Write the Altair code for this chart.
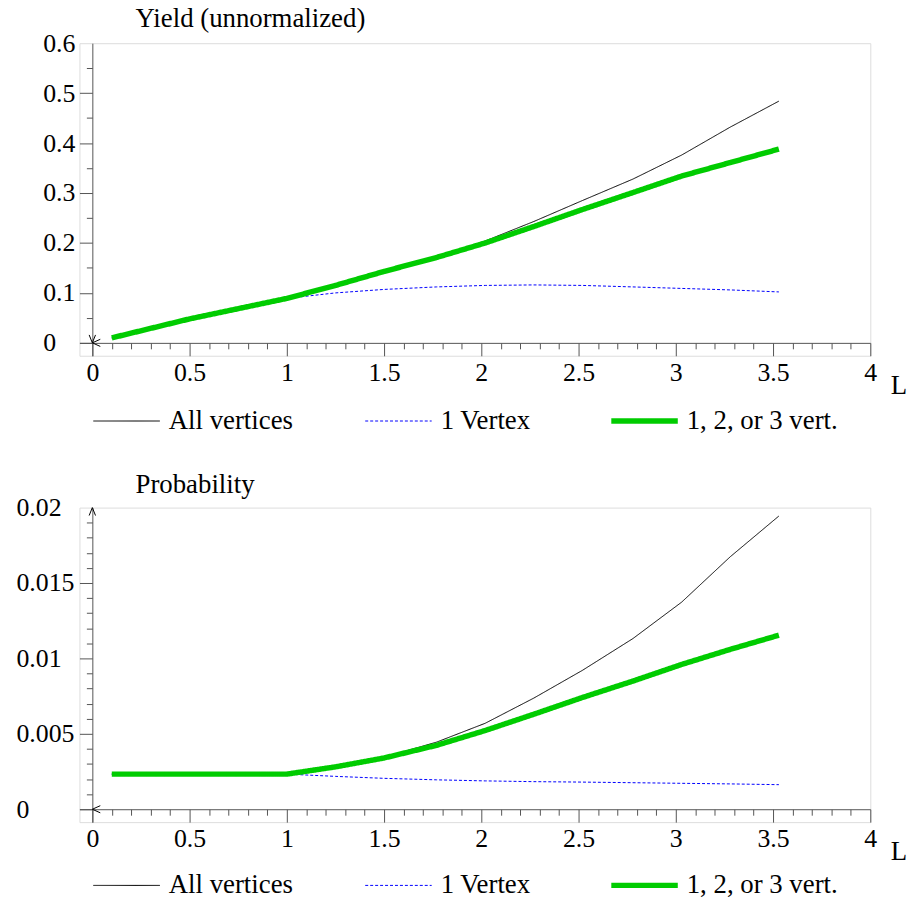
import altair as alt
import pandas as pd

# ---------------- data ----------------
L = [0.1, 0.5, 1.0, 1.25, 1.5, 1.77, 2.02, 2.27, 2.52, 2.78, 3.03, 3.28, 3.53]

series_names = ["All vertices", "1 Vertex", "1, 2, or 3 vert."]
series_colors = ["#000000", "#0000ff", "#00cc00"]
series_dash = [[1, 0], [3, 2], [1, 0]]

yield_all = [0.010, 0.048, 0.089, 0.115, 0.143, 0.172, 0.204, 0.243, 0.285, 0.328, 0.376, 0.432, 0.484]
yield_one = [0.010, 0.048, 0.089, 0.100, 0.107, 0.112, 0.115, 0.116, 0.115, 0.112, 0.109, 0.106, 0.102]
yield_123 = [0.010, 0.048, 0.089, 0.115, 0.143, 0.171, 0.200, 0.233, 0.267, 0.301, 0.334, 0.361, 0.388]

prob_all = [0.00233, 0.00233, 0.00233, 0.00283, 0.00345, 0.00445, 0.00570, 0.00737, 0.00921, 0.01132, 0.01373, 0.01674, 0.01944]
prob_one = [0.00233, 0.00233, 0.00233, 0.00218, 0.00205, 0.00195, 0.00188, 0.00183, 0.00180, 0.00176, 0.00172, 0.00168, 0.00163]
prob_123 = [0.00233, 0.00233, 0.00233, 0.00281, 0.00340, 0.00424, 0.00522, 0.00630, 0.00741, 0.00850, 0.00960, 0.01060, 0.01154]

x_major = [0, 0.5, 1, 1.5, 2, 2.5, 3, 3.5, 4]
x_minor = [0.1, 0.2, 0.3, 0.4, 0.6, 0.7, 0.8, 0.9, 1.1, 1.2, 1.3, 1.4, 1.6, 1.7, 1.8, 1.9,
           2.1, 2.2, 2.3, 2.4, 2.6, 2.7, 2.8, 2.9, 3.1, 3.2, 3.3, 3.4, 3.6, 3.7, 3.8, 3.9]

y1_major = [0, 0.1, 0.2, 0.3, 0.4, 0.5, 0.6]
y1_minor = [0.05, 0.15, 0.25, 0.35, 0.45, 0.55]

y2_major = [0, 0.005, 0.01, 0.015, 0.02]
y2_minor = [0.001, 0.002, 0.003, 0.004, 0.006, 0.007, 0.008, 0.009,
            0.011, 0.012, 0.013, 0.014, 0.016, 0.017, 0.018, 0.019]

# axis arrow heads (Maple style): position on the axes and direction
arrows_top = {"L": [0, 0], "v": [0, 0], "dir": ["left", "down"]}
arrows_bottom = {"L": [0, 0], "v": [0, 0.02], "dir": ["left", "up"]}

# ---------------- styling ----------------
FONT = "Liberation Serif"
FS = 26
FS_T = 27
AX = "#555555"
EXT = 13          # axis extension beyond the origin, px
PX_X = 196.0      # px per unit of L
W = 797
GREEN = series_names[2]

ARROW_SHAPES = {
    "left": "M1,-0.45L0,0L1,0.45",
    "down": "M-0.4,-1L0,0L0.4,-1",
    "up": "M-0.4,1L0,0L0.4,1",
}


def long_df(vals_list):
    rows = []
    for name, vals in zip(series_names, vals_list):
        for l, v in zip(L, vals):
            rows.append({"L": l, "v": v, "series": name})
    return pd.DataFrame(rows)


def panel(df, arrows, ymax, px_per_unit_y, y_major, y_minor, label_pad, title, title_y, legend_y):
    ylo = -EXT / px_per_unit_y
    h = round((ymax - ylo) * px_per_unit_y)
    xscale = alt.Scale(domain=[-EXT / PX_X, 4], nice=False, zero=False)
    yscale = alt.Scale(domain=[ylo, ymax], nice=False, zero=False)

    leg = alt.Legend(
        orient="none", legendX=14, legendY=legend_y, direction="horizontal",
        title=None, symbolType="stroke", symbolSize=67 * 67, symbolOffset=20,
        labelFont=FONT, labelFontSize=FS_T, labelColor="black", labelOffset=29,
        columnPadding=70, labelLimit=400,
        symbolStrokeWidth=alt.ExprRef(expr="datum.value === '%s' ? 5.5 : 1" % GREEN),
    )

    base = alt.Chart(df)
    minor = base.mark_line(strokeOpacity=0).encode(
        x=alt.X("L:Q", scale=xscale,
                axis=alt.Axis(orient="bottom", offset=-EXT, values=x_minor, labels=False,
                              domain=False, grid=False, tickSize=6, tickColor=AX, title=None)),
        y=alt.Y("v:Q", scale=yscale,
                axis=alt.Axis(orient="left", offset=-EXT, values=y_minor, labels=False,
                              domain=False, grid=False, tickSize=6, tickColor=AX, title=None)),
        detail="series:N",
    )
    lines = base.mark_line(clip=False).encode(
        x=alt.X("L:Q", scale=xscale,
                axis=alt.Axis(orient="bottom", offset=-EXT, values=x_major, format="~g",
                              tickSize=EXT, tickColor=AX, domainColor=AX, grid=False,
                              labelFont=FONT, labelFontSize=FS, labelColor="black",
                              labelBaseline="middle", labelPadding=17,
                              labelFlush=False, labelOverlap=False,
                              title="L", titleFont=FONT, titleFontSize=FS_T,
                              titleFontWeight="normal", titleColor="black",
                              titleAlign="left", titleBaseline="alphabetic",
                              titleX=817, titleY=51)),
        y=alt.Y("v:Q", scale=yscale,
                axis=alt.Axis(orient="left", offset=-EXT, values=y_major, format="~g",
                              tickSize=EXT, tickColor=AX, domainColor=AX, grid=False,
                              tickOpacity={"condition": {"test": "datum.value >= %g" % (ymax * 0.999),
                                                         "value": 0}, "value": 1},
                              labelFont=FONT, labelFontSize=FS, labelColor="black",
                              labelAlign="left", labelBaseline="middle",
                              labelPadding=label_pad, labelFlush=False, labelOverlap=False,
                              title=title, titleFont=FONT, titleFontSize=FS_T,
                              titleFontWeight="normal", titleColor="black", titleAngle=0,
                              titleAlign="left", titleBaseline="alphabetic",
                              titleX=43, titleY=title_y)),
        stroke=alt.Stroke("series:N", scale=alt.Scale(domain=series_names, range=series_colors),
                          legend=leg),
        strokeDash=alt.StrokeDash("series:N", scale=alt.Scale(domain=series_names, range=series_dash),
                                  legend=leg),
        strokeWidth=alt.condition("datum.series === '%s'" % GREEN, alt.value(5.5), alt.value(1)),
        order="L:Q",
    )
    arrow_layers = []
    adf = pd.DataFrame(arrows)
    for d, path in ARROW_SHAPES.items():
        sub = adf[adf["dir"] == d]
        if len(sub) == 0:
            continue
        arrow_layers.append(
            alt.Chart(sub).mark_point(shape=path, size=256, filled=False, stroke="black",
                                      strokeWidth=1, opacity=1, clip=False).encode(
                x=alt.X("L:Q", scale=xscale, axis=None),
                y=alt.Y("v:Q", scale=yscale, axis=None),
            )
        )
    return alt.layer(minor, lines, *arrow_layers).resolve_axis(
        x="independent", y="independent").properties(width=W, height=h)


top = panel(long_df([yield_all, yield_one, yield_123]), arrows_top, 0.6, 503.0,
            y1_major, y1_minor, 37, "Yield (unnormalized)", -17, 367)
bottom = panel(long_df([prob_all, prob_one, prob_123]), arrows_bottom, 0.02, 15220.0,
               y2_major, y2_minor, 64, "Probability", -15, 367)

chart = alt.vconcat(top, bottom, spacing=35).resolve_scale(
    stroke="independent", strokeDash="independent"
).resolve_legend(
    stroke="independent", strokeDash="independent"
).properties(
    padding={"left": 7, "top": -8, "right": 0, "bottom": -3}
).configure_view(strokeWidth=0, stroke="transparent").configure(background="white")

chart.save("out.html", embed_options={"renderer": "svg", "actions": False})
